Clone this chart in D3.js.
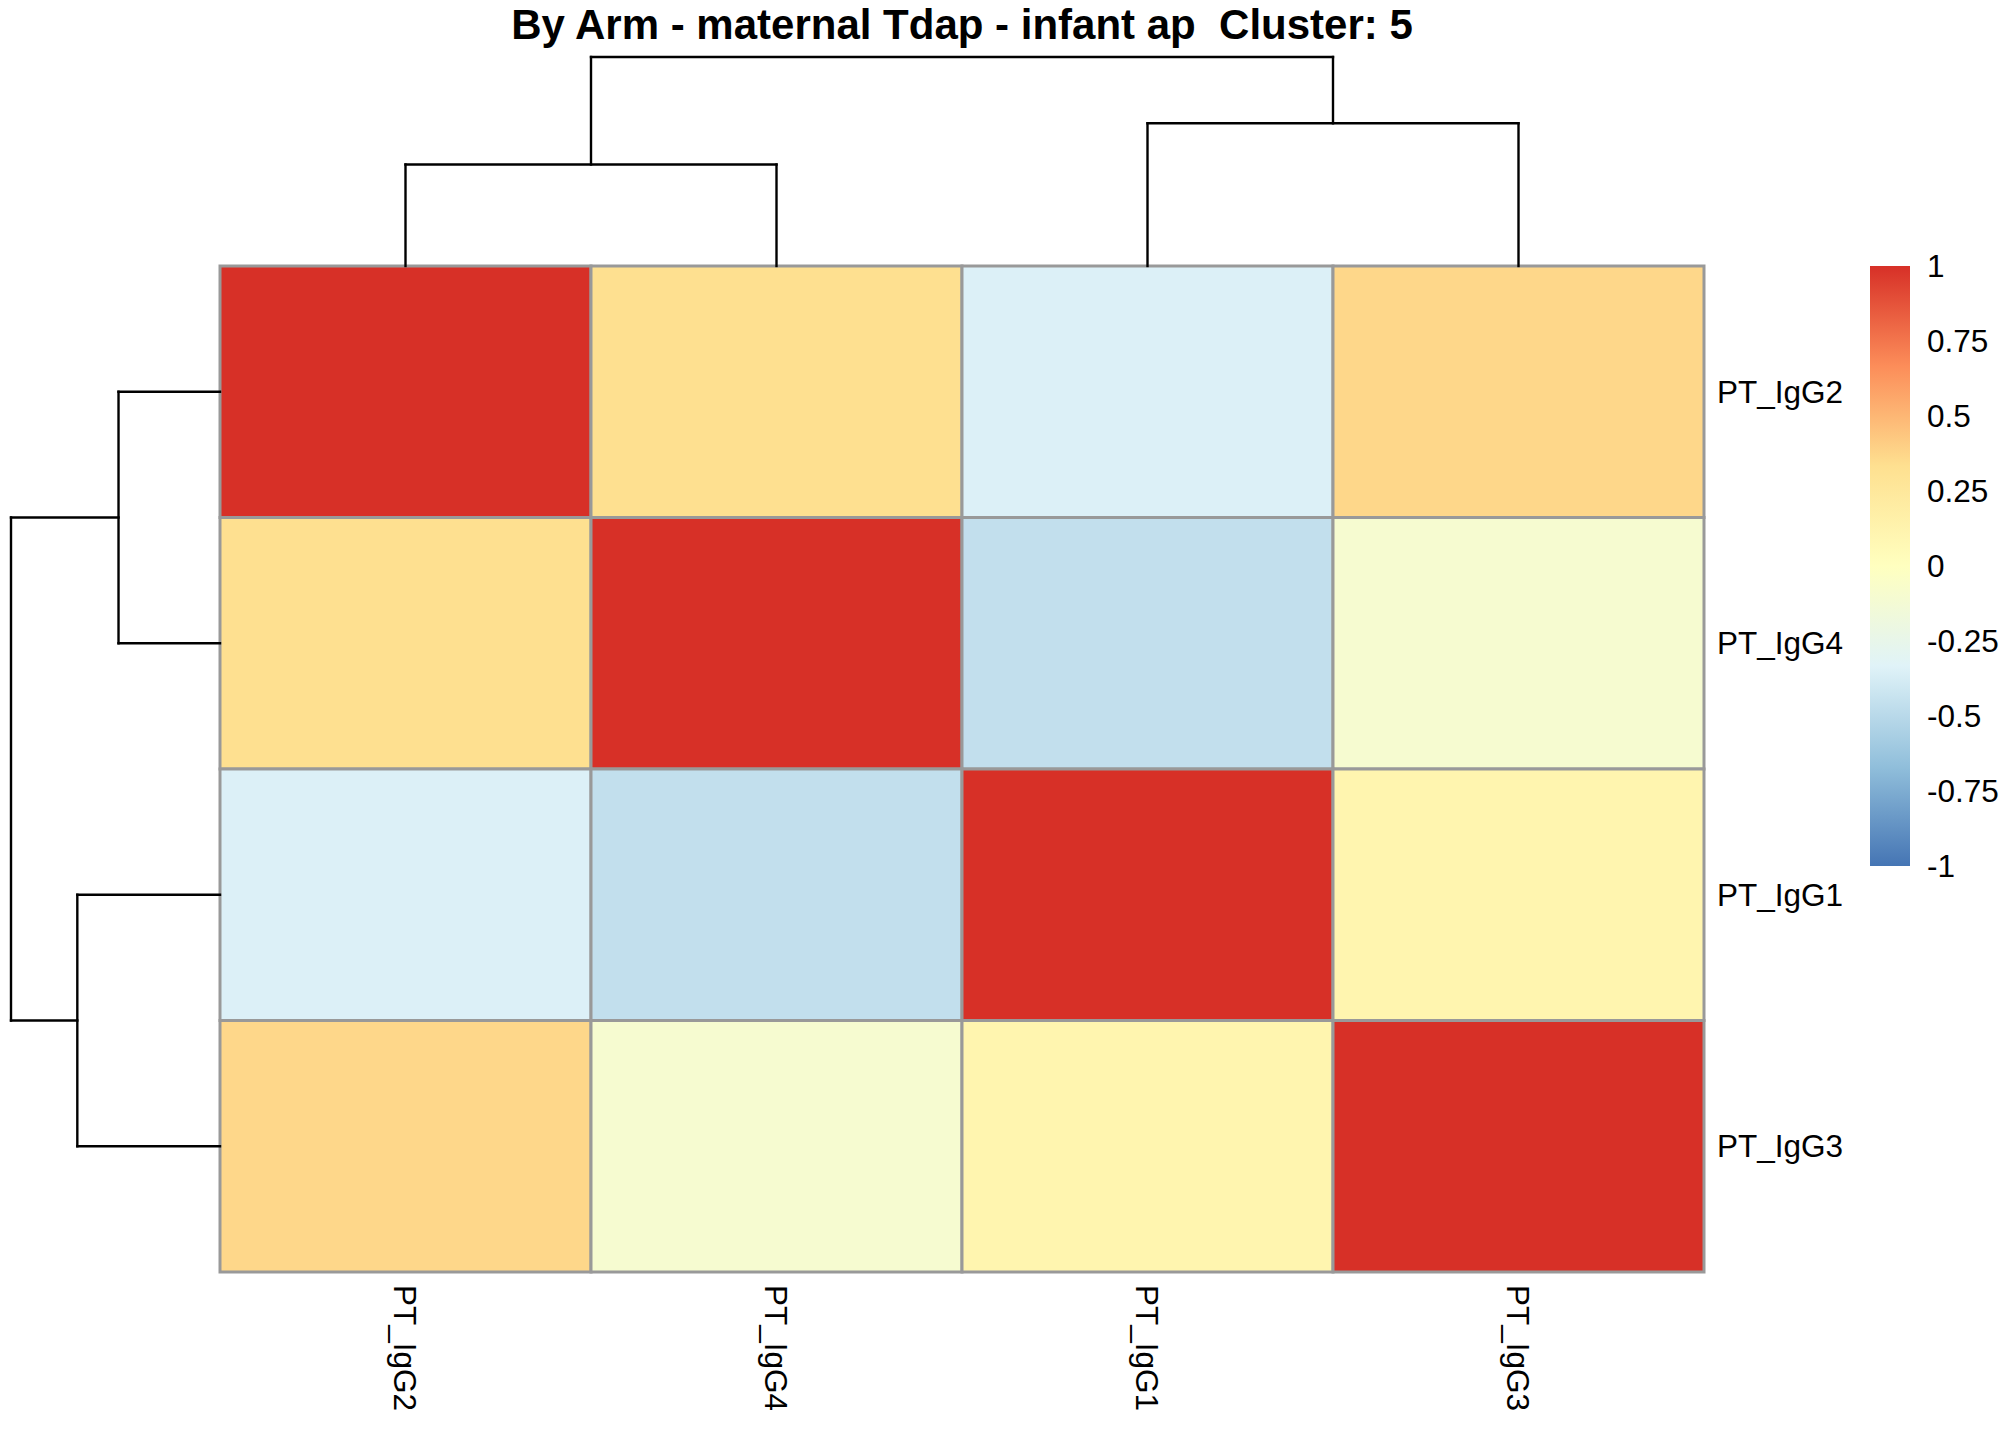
<!DOCTYPE html>
<html>
<head>
<meta charset="utf-8">
<script src="https://cdn.jsdelivr.net/npm/d3@7"></script>
<style>
  html, body { margin: 0; padding: 0; background: #ffffff; }
  svg text { font-family: "Liberation Sans", Arial, sans-serif; white-space: pre; }
</style>
</head>
<body>
<svg id="chart" width="2016" height="1440"></svg>
<script>
// ---- data ----
const titleText = "By Arm - maternal Tdap - infant ap  Cluster: 5";
const rowLabels = ["PT_IgG2", "PT_IgG4", "PT_IgG1", "PT_IgG3"];
const colLabels = ["PT_IgG2", "PT_IgG4", "PT_IgG1", "PT_IgG3"];
// correlation matrix rows (in displayed order)
const rowIgG2 = [1.00, 0.33, -0.35, 0.37];
const rowIgG4 = [0.33, 1.00, -0.46, -0.10];
const rowIgG1 = [-0.35, -0.46, 1.00, 0.11];
const rowIgG3 = [0.37, -0.10, 0.11, 1.00];
const matrix = [rowIgG2, rowIgG4, rowIgG1, rowIgG3];
// dendrogram merges (indices into displayed order), heights in distance units
const mergeLeft  = { a: 0, b: 1, h: 1.01 };
const mergeRight = { a: 2, b: 3, h: 1.42 };
const mergeRoot  = { h: 2.08 };
const legendTicks = [1, 0.75, 0.5, 0.25, 0, -0.25, -0.5, -0.75, -1];
const paletteColors = ["#4575B4", "#91BFDB", "#E0F3F8", "#FFFFBF", "#FEE090", "#FC8D59", "#D73027"];

// ---- layout ----
const svg = d3.select("#chart");
const hm = { x0: 220, x1: 1704, y0: 266, y1: 1272 };
const dendroSize = 209;
const fontSize = 31.5;

const x = d3.scaleBand().domain(colLabels.map((d, i) => i)).range([hm.x0, hm.x1]).padding(0);
const y = d3.scaleBand().domain(rowLabels.map((d, i) => i)).range([hm.y0, hm.y1]).padding(0);

const valueDomain = d3.range(paletteColors.length).map(i => -1 + 2 * i / (paletteColors.length - 1));
const color = d3.scaleLinear().domain(valueDomain).range(paletteColors).interpolate(d3.interpolateRgb).clamp(true);

// ---- title ----
svg.append("text")
  .attr("x", (hm.x0 + hm.x1) / 2)
  .attr("y", 39)
  .attr("text-anchor", "middle")
  .attr("font-weight", "bold")
  .attr("font-size", 42)
  .text(titleText);

// ---- cells ----
const cells = [];
matrix.forEach((row, r) => row.forEach((v, c) => cells.push({ r, c, v })));
svg.append("g").selectAll("rect").data(cells).join("rect")
  .attr("x", d => x(d.c))
  .attr("y", d => y(d.r))
  .attr("width", x.bandwidth())
  .attr("height", y.bandwidth())
  .attr("fill", d => color(d.v))
  .attr("stroke", "#999999")
  .attr("stroke-width", 3);

// ---- dendrograms ----
const hTop = d3.scaleLinear().domain([0, mergeRoot.h]).range([hm.y0, hm.y0 - dendroSize]);
const hLeft = d3.scaleLinear().domain([0, mergeRoot.h]).range([hm.x0, hm.x0 - dendroSize]);

function dendroSegments(pos) {
  const segs = [];
  const la = pos(mergeLeft.a), lb = pos(mergeLeft.b);
  const ra = pos(mergeRight.a), rb = pos(mergeRight.b);
  const lm = (la + lb) / 2, rm = (ra + rb) / 2;
  segs.push([la, 0, la, mergeLeft.h]);
  segs.push([lb, 0, lb, mergeLeft.h]);
  segs.push([la, mergeLeft.h, lb, mergeLeft.h]);
  segs.push([ra, 0, ra, mergeRight.h]);
  segs.push([rb, 0, rb, mergeRight.h]);
  segs.push([ra, mergeRight.h, rb, mergeRight.h]);
  segs.push([lm, mergeLeft.h, lm, mergeRoot.h]);
  segs.push([rm, mergeRight.h, rm, mergeRoot.h]);
  segs.push([lm, mergeRoot.h, rm, mergeRoot.h]);
  return segs;
}

const colPos = i => x(i) + x.bandwidth() / 2;
const rowPos = i => y(i) + y.bandwidth() / 2;

svg.append("g").selectAll("line").data(dendroSegments(colPos)).join("line")
  .attr("x1", d => d[0]).attr("y1", d => hTop(d[1]))
  .attr("x2", d => d[2]).attr("y2", d => hTop(d[3]))
  .attr("stroke", "#000").attr("stroke-width", 2.4).attr("stroke-linecap", "square");

svg.append("g").selectAll("line").data(dendroSegments(rowPos)).join("line")
  .attr("y1", d => d[0]).attr("x1", d => hLeft(d[1]))
  .attr("y2", d => d[2]).attr("x2", d => hLeft(d[3]))
  .attr("stroke", "#000").attr("stroke-width", 2.4).attr("stroke-linecap", "square");

// ---- row labels ----
svg.append("g").selectAll("text").data(rowLabels).join("text")
  .attr("x", hm.x1 + 13)
  .attr("y", (d, i) => rowPos(i))
  .attr("dy", "0.35em")
  .attr("font-size", fontSize)
  .text(d => d);

// ---- column labels (rotated) ----
svg.append("g").selectAll("text").data(colLabels).join("text")
  .attr("transform", (d, i) => `translate(${colPos(i)},${hm.y1 + 13}) rotate(90)`)
  .attr("dy", "0.35em")
  .attr("font-size", fontSize)
  .text(d => d);

// ---- legend ----
const leg = { x0: 1870, x1: 1910, y0: 266, y1: 866 };
const ly = d3.scaleLinear().domain([-1, 1]).range([leg.y1, leg.y0]);
const defs = svg.append("defs");
const grad = defs.append("linearGradient").attr("id", "lg")
  .attr("x1", 0).attr("y1", 1).attr("x2", 0).attr("y2", 0);
grad.selectAll("stop").data(valueDomain).join("stop")
  .attr("offset", d => (d + 1) / 2)
  .attr("stop-color", d => color(d));
svg.append("rect")
  .attr("x", leg.x0).attr("y", leg.y0)
  .attr("width", leg.x1 - leg.x0).attr("height", leg.y1 - leg.y0)
  .attr("fill", "url(#lg)");

svg.append("g").selectAll("text").data(legendTicks).join("text")
  .attr("x", leg.x1 + 17)
  .attr("y", d => ly(d))
  .attr("dy", "0.35em")
  .attr("font-size", fontSize)
  .text(d => d === 0 ? "0" : (d < 0 ? "-" + Math.abs(d) : String(d)));
</script>
</body>
</html>
